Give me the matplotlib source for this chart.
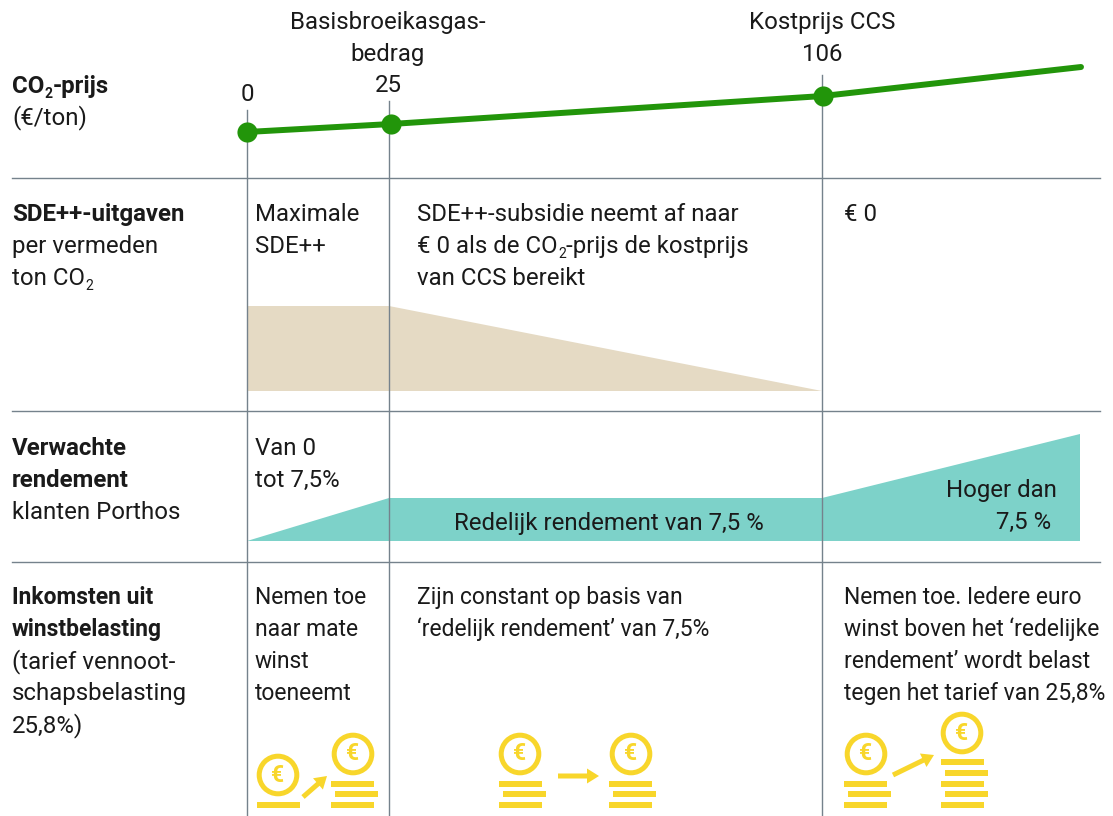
import matplotlib.pyplot as plt
from matplotlib.patches import Circle, Polygon, Rectangle, FancyArrow

plt.rcParams['font.family'] = ['Roboto', 'DejaVu Sans']

# Data, in picture pixels
price_labels = ["0", "25", "106"]
price_x = [247, 391, 823, 1081]
price_y = [132, 124, 96, 67]
marker_idx = [0, 1, 2]

sep_x = [247, 389, 822]
sep_top = [110, 101, 75]
row_y = [178, 411, 562]

sde_x = [247, 389, 822, 247]
sde_y = [306, 306, 391, 391]
rend_x = [247, 389, 822, 1080, 1080, 247]
rend_y = [541, 498, 498, 434, 541, 541]

GREEN = "#22950a"
GRAY = "#75828c"
BEIGE = "#e5dac4"
TEAL = "#7dd2c9"
YELLOW = "#f8d62b"
INK = "#1a1a1a"
FS = 17.25
FS_LOW = 16.5  # the bottom row is set a bit smaller

fig = plt.figure(figsize=(11.13, 8.16), dpi=100)
ax = fig.add_axes([0, 0, 1, 1])
ax.set_xlim(0, 1113)
ax.set_ylim(816, 0)
ax.axis("off")
renderer = fig.canvas.get_renderer()


def label(x, y, s, bold=False, ha="left", size=FS):
    return ax.text(x, y + 1.5, s, fontsize=size, color=INK, ha=ha, va="center",
                   fontweight="bold" if bold else "normal", zorder=6)


def label_sub(x, y, before, after, bold=False):
    # text with a small lowered 2, placed from the measured width of each part
    w = "bold" if bold else "normal"
    t = label(x, y, before, bold=bold)
    x2 = t.get_window_extent(renderer).x1
    ax.text(x2 + 0.5, y + 9, "2", fontsize=FS * 0.58, color=INK, ha="left", va="center",
            fontweight=w, zorder=6)
    if after:
        label(x2 + 8, y, after, bold=bold)


def coin(x, y):
    ax.add_patch(Circle((x, y), 18.8, fc="white", ec=YELLOW, lw=3.6, zorder=3))
    ax.text(x, y, "€", fontsize=16.5, fontweight="bold", color=YELLOW,
            ha="center", va="center", zorder=4)


def bars(x, tops):
    # every second bar of a stack sits a bit to the right
    for i, t in enumerate(tops):
        ax.add_patch(Rectangle((x + (4 if (len(tops) - 1 - i) % 2 else 0), t), 43, 6,
                               fc=YELLOW, ec="none", zorder=3))


def arrow(x0, y0, x1, y1):
    ax.add_patch(FancyArrow(x0, y0, x1 - x0, y1 - y0, width=5, head_width=15,
                            head_length=12, length_includes_head=True,
                            fc=YELLOW, ec="none", zorder=3))


# Separators
for y in row_y:
    ax.plot([12, 1100], [y, y], color=GRAY, lw=1.0, zorder=1)
for x, t in zip(sep_x, sep_top):
    ax.plot([x, x], [t, 816], color=GRAY, lw=1.0, zorder=1)

# Shapes
ax.add_patch(Polygon(list(zip(sde_x, sde_y)), fc=BEIGE, ec="none", zorder=0))
ax.add_patch(Polygon(list(zip(rend_x, rend_y)), fc=TEAL, ec="none", zorder=0))

# CO2 price line
ax.plot(price_x, price_y, color=GREEN, lw=4.3, solid_capstyle="round", zorder=4)
ax.plot([price_x[i] for i in marker_idx], [price_y[i] for i in marker_idx], "o",
        color=GREEN, ms=14.5, mec="none", zorder=5)

# Top labels
label(388, 21, "Basisbroeikasgas-", ha="center")
label(388, 53, "bedrag", ha="center")
label(247, 93, price_labels[0], ha="center")
label(388, 84, price_labels[1], ha="center")
label(822, 21, "Kostprijs CCS", ha="center")
label(822, 53, price_labels[2], ha="center")

# Row headers
label_sub(12, 85, "CO", "-prijs", bold=True)
label(12, 116, "(€/ton)")
label(12, 213, "SDE++-uitgaven", bold=True)
label(12, 245, "per vermeden")
label_sub(12, 277, "ton CO", "")
label(12, 447, "Verwachte", bold=True)
label(12, 479, "rendement", bold=True)
label(12, 511, "klanten Porthos")
label(12, 596, "Inkomsten uit", bold=True, size=FS_LOW)
label(12, 628, "winstbelasting", bold=True, size=FS_LOW)
label(12, 660, "(tarief vennoot-")
label(12, 692, "schapsbelasting")
label(12, 724, "25,8%)")

# SDE++ texts
label(255, 213, "Maximale")
label(255, 245, "SDE++")
label(417, 213, "SDE++-subsidie neemt af naar")
label_sub(417, 245, "€ 0 als de CO", "-prijs de kostprijs")
label(417, 277, "van CCS bereikt")
label(844, 213, "€ 0")

# Rendement texts
label(255, 447, "Van 0")
label(255, 479, "tot 7,5%")
label(609, 522, "Redelijk rendement van 7,5 %", ha="center")
label(1057, 489, "Hoger dan", ha="right")
label(1051, 521, "7,5 %", ha="right")

# Inkomsten texts
for y, s in zip([596, 628, 660, 692], ["Nemen toe", "naar mate", "winst", "toeneemt"]):
    label(255, y, s, size=FS_LOW)
label(417, 596, "Zijn constant op basis van", size=FS_LOW)
label(417, 628, "‘redelijk rendement’ van 7,5%", size=FS_LOW)
for y, s in zip([596, 628, 660, 692],
                ["Nemen toe. Iedere euro", "winst boven het ‘redelijke",
                 "rendement’ wordt belast", "tegen het tarief van 25,8%"]):
    label(844, y, s, size=FS_LOW)

# Coin icons
coin(278, 775)
bars(257, [802])
arrow(303, 797, 327, 776)
coin(353, 754)
bars(331, [781, 791, 802])

coin(520, 754)
bars(499, [781, 791, 802])
arrow(558, 776, 599, 776)
coin(631, 754)
bars(609, [781, 791, 802])

coin(866, 754)
bars(844, [781, 791, 802])
arrow(893, 775, 934, 755)
coin(962, 733)
bars(941, [759, 770, 781, 791, 802])

fig.savefig("out.png", dpi=100, facecolor="white")
